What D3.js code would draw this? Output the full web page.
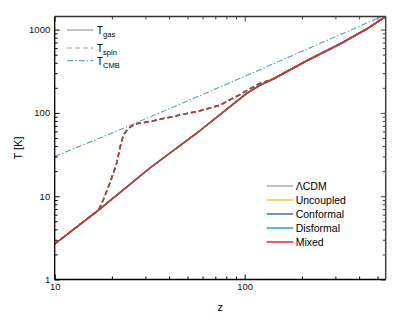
<!DOCTYPE html>
<html>
<head>
<meta charset="utf-8">
<script src="https://cdn.jsdelivr.net/npm/d3@7"></script>
<style>
  body { margin: 0; background: #fff; }
  text { font-family: "Liberation Sans", Arial, sans-serif; }
</style>
</head>
<body>
<script>
// values
const zGas = [10, 17, 31.7, 58, 102, 120, 141, 212, 317, 438, 552];
const tGas = [2.67, 6.8, 21.8, 61, 170, 214, 255, 423, 671, 1016, 1436];

const zSpin = [10, 17, 18, 19.5, 21.2, 22.1, 23, 24.4, 26.5, 29.2, 31.7, 35.8, 45.6, 58.2, 74.2, 94.4, 118, 141, 212, 317, 438, 552];
const tSpin = [2.67, 6.8, 9.0, 14.3, 24.8, 39.3, 54.3, 65.3, 73.6, 76.3, 78.4, 83.8, 94.3, 106, 124, 166, 222, 255, 423, 671, 1016, 1436];

const zCmb = [10, 20, 50, 100, 200, 552];
const tCmb = [30.0, 57.2, 139, 275, 548, 1507];

const models = ["\u039BCDM", "Uncoupled", "Conformal", "Disformal", "Mixed"];
const modelColors = ["#aaaaaa", "#f5c231", "#3b70b5", "#1bb3a6", "#c93434"];
const legendColors = ["#aaaaaa", "#f5c231", "#3b70b5", "#1bb3a6", "#e3262c"];

const xMajor = [10, 100];
const xMinor = [20, 30, 40, 50, 60, 70, 80, 90, 200, 300, 400, 500];
const yMajor = [1, 10, 100, 1000];
const yMinor = [2, 3, 4, 5, 6, 7, 8, 9, 20, 30, 40, 50, 60, 70, 80, 90, 200, 300, 400, 500, 600, 700, 800, 900];

var margin = {top: 16.5, right: 29.3, bottom: 38.5, left: 54.7},
  width = 415 - margin.left - margin.right,
  height = 318 - margin.top - margin.bottom;

var svg = d3.select("body").append("svg")
  .attr("width", 415)
  .attr("height", 318)
  .append("g")
  .attr("transform", "translate(" + margin.left + "," + margin.top + ")");

let x = d3.scaleLog().domain([10, 552]).range([0, width]);
let y = d3.scaleLog().domain([1, 1436]).range([height, 0]);

svg.append("clipPath").attr("id", "clip")
  .append("rect").attr("width", width).attr("height", height);

const line = d3.line()
  .x(d => x(d[0]))
  .y(d => y(d[1]));

const gasPts = zGas.map((z, i) => [z, tGas[i]]);
const spinPts = zSpin.map((z, i) => [z, tSpin[i]]);
const cmbPts = zCmb.map((z, i) => [z, tCmb[i]]);

const plot = svg.append("g").attr("clip-path", "url(#clip)");

plot.append("path").datum(cmbPts)
  .attr("d", line)
  .attr("fill", "none")
  .attr("stroke", "#6a9fd6")
  .attr("stroke-width", 1.2)
  .attr("stroke-dasharray", "6,2,1.5,2");

models.forEach((m, i) => {
  plot.append("path").datum(gasPts)
    .attr("d", line)
    .attr("fill", "none")
    .attr("stroke", modelColors[i])
    .attr("stroke-width", 1.5)
    .attr("stroke-linejoin", "round");
  plot.append("path").datum(spinPts)
    .attr("d", line)
    .attr("fill", "none")
    .attr("stroke", modelColors[i])
    .attr("stroke-width", 1.5)
    .attr("stroke-linejoin", "round")
    .attr("stroke-dasharray", "5,3");
});

// axes, ticks pointing inward
function styleAxis(g, col) {
  g.selectAll("text").style("font-size", "9.5px").style("fill", "#111");
  g.selectAll("line").attr("stroke", col);
  g.select(".domain").remove();
}

svg.append("g").attr("transform", "translate(0," + height + ")")
  .call(d3.axisBottom(x).tickValues(xMajor).tickSize(-5).tickPadding(4).tickFormat(d3.format("d")))
  .call(g => styleAxis(g, "#000"));
svg.append("g").attr("transform", "translate(0," + height + ")")
  .call(d3.axisBottom(x).tickValues(xMinor).tickSize(-3).tickFormat(""))
  .call(g => styleAxis(g, "#000"));
svg.append("g")
  .call(d3.axisTop(x).tickValues(xMajor).tickSize(-5).tickFormat(""))
  .call(g => styleAxis(g, "#444"));
svg.append("g")
  .call(d3.axisTop(x).tickValues(xMinor).tickSize(-3).tickFormat(""))
  .call(g => styleAxis(g, "#444"));

svg.append("g")
  .call(d3.axisLeft(y).tickValues(yMajor).tickSize(-5).tickPadding(4.5).tickFormat(d3.format("d")))
  .call(g => styleAxis(g, "#000"));
svg.append("g")
  .call(d3.axisLeft(y).tickValues(yMinor).tickSize(-3).tickFormat(""))
  .call(g => styleAxis(g, "#000"));
svg.append("g").attr("transform", "translate(" + width + ",0)")
  .call(d3.axisRight(y).tickValues(yMajor).tickSize(-5).tickFormat(""))
  .call(g => styleAxis(g, "#444"));
svg.append("g").attr("transform", "translate(" + width + ",0)")
  .call(d3.axisRight(y).tickValues(yMinor).tickSize(-3).tickFormat(""))
  .call(g => styleAxis(g, "#444"));

// frame
svg.append("line").attr("x1", 0).attr("x2", width).attr("y1", 0).attr("y2", 0)
  .attr("stroke", "#333").attr("stroke-width", 1.3);
svg.append("line").attr("x1", width).attr("x2", width).attr("y1", 0).attr("y2", height)
  .attr("stroke", "#444").attr("stroke-width", 1.5);
svg.append("line").attr("x1", 0).attr("x2", 0).attr("y1", 0).attr("y2", height)
  .attr("stroke", "#000").attr("stroke-width", 1.3);
svg.append("line").attr("x1", 0).attr("x2", width).attr("y1", height).attr("y2", height)
  .attr("stroke", "#000").attr("stroke-width", 1.3);

// axis titles
svg.append("text")
  .attr("x", width / 2).attr("y", height + 31)
  .style("text-anchor", "middle").style("font-size", "11px")
  .text("z");
svg.append("text")
  .attr("transform", "translate(" + (-33) + "," + (height / 2) + ") rotate(-90)")
  .style("text-anchor", "middle").style("font-size", "11px")
  .text("T [K]");

// temperature legend
const tLeg = [
  {base: "T", sub: "gas", dash: null, col: "#999"},
  {base: "T", sub: "spin", dash: "5,3", col: "#999"},
  {base: "T", sub: "CMB", dash: "6,2,1.5,2", col: "#6a9fd6"}
];
const tLegY = [13.5, 31.5, 44.2];
tLeg.forEach((d, i) => {
  svg.append("line")
    .attr("x1", 12.5).attr("x2", 38.5)
    .attr("y1", tLegY[i]).attr("y2", tLegY[i])
    .attr("stroke", d.col).attr("stroke-width", 1.2)
    .attr("stroke-dasharray", d.dash);
  const t = svg.append("text")
    .attr("x", 42).attr("y", tLegY[i] + 4)
    .style("font-size", "10.5px");
  t.append("tspan").text(d.base);
  t.append("tspan").attr("dy", 3).style("font-size", "7.5px").text(d.sub);
});

// model legend
models.forEach((m, i) => {
  const ly = 169.5 + i * 14;
  svg.append("line")
    .attr("x1", 212).attr("x2", 238.5)
    .attr("y1", ly).attr("y2", ly)
    .attr("stroke", legendColors[i]).attr("stroke-width", 1.5);
  svg.append("text")
    .attr("x", 241).attr("y", ly + 4)
    .style("font-size", "10.5px")
    .text(m);
});
</script>
</body>
</html>
